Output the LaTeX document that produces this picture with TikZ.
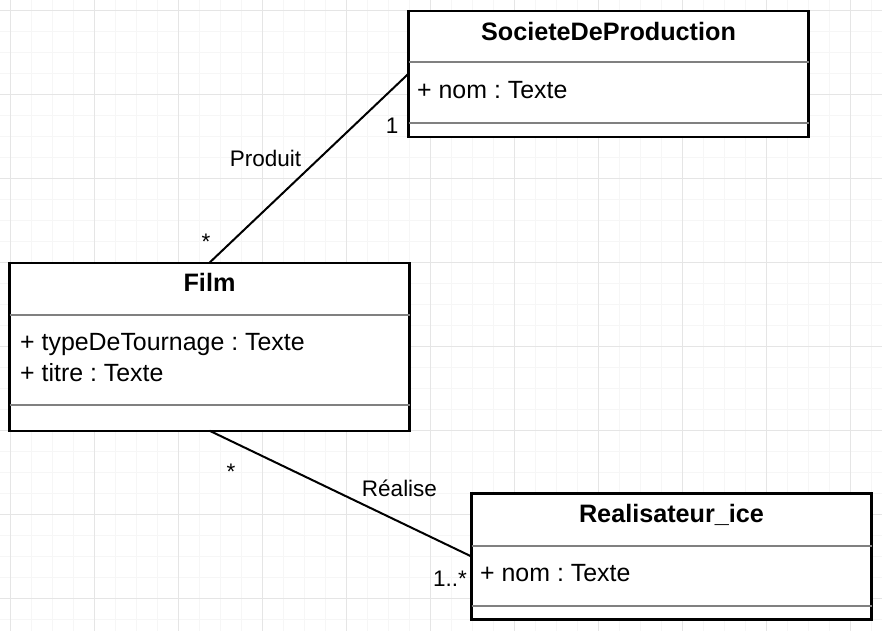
\documentclass[tikz,border=0pt]{standalone}
\usepackage{fontspec}
\setmainfont{Liberation Sans}
\usetikzlibrary{calc}
\definecolor{gridminor}{gray}{0.965}
\definecolor{gridmajor}{gray}{0.9}
\definecolor{sepgray}{gray}{0.5}
\frenchspacing

\begin{document}
\begin{tikzpicture}[x=1pt, y=-1pt,
    classbox/.style={draw=black, line width=2.2pt, fill=white, minimum width=400pt, inner sep=0pt, outer sep=0pt},
    classtitle/.style={font=\fontsize{25.2}{30}\selectfont\bfseries, inner sep=0pt, anchor=base},
    attr/.style={font=\fontsize{24.9}{30}\selectfont, inner sep=0pt, anchor=base west},
    lbl/.style={font=\fontsize{22.5}{27}\selectfont, inner sep=0pt, anchor=base},
    sep/.style={draw=sepgray, line width=1.6pt},
    assoc/.style={draw=black, line width=2pt}]
            \useasboundingbox (0,0) rectangle (882,631);
            \fill[white] (0,0) rectangle (882,631);
            % grid
            \foreach \i in {0,...,41} {
                \draw[gridminor, line width=0.8pt] (10.5+21*\i, 0) -- (10.5+21*\i, 631);
            }
            \foreach \j in {0,...,29} {
                \draw[gridminor, line width=0.8pt] (0, 10.5+21*\j) -- (882, 10.5+21*\j);
            }
            \foreach \i in {0,...,10} {
                \draw[gridmajor, line width=0.8pt] (10.5+84*\i, 0) -- (10.5+84*\i, 631);
            }
            \foreach \j in {0,...,7} {
                \draw[gridmajor, line width=0.8pt] (0, 10.5+84*\j) -- (882, 10.5+84*\j);
            }

            % classes
            \node[classbox, minimum height=126pt, anchor=north west] (soc) at (408.5, 10.7) {};
            \node[classbox, minimum height=168pt, anchor=north west] (film) at (9.5, 262.7) {};
            \node[classbox, minimum height=126pt, anchor=north west] (real) at (471.5, 493.5) {};

            \node[classtitle] (socT) at ($(soc.north)+(0,29.5)$) {SocieteDeProduction};
            \node[classtitle] (filmT) at ($(film.north)+(0,29)$) {Film};
            \node[classtitle] (realT) at ($(real.north)+(0,28.5)$) {Realisateur\_ice};

            \draw[sep] ($(soc.north west)+(0,51.6)$) -- ($(soc.north east)+(0,51.6)$);
            \draw[sep] ($(soc.north west)+(0,112.3)$) -- ($(soc.north east)+(0,112.3)$);
            \draw[sep] ($(film.north west)+(0,52)$) -- ($(film.north east)+(0,52)$);
            \draw[sep] ($(film.north west)+(0,142.3)$) -- ($(film.north east)+(0,142.3)$);
            \draw[sep] ($(real.north west)+(0,52.5)$) -- ($(real.north east)+(0,52.5)$);
            \draw[sep] ($(real.north west)+(0,112.5)$) -- ($(real.north east)+(0,112.5)$);

            \node[attr] (socA1) at ($(soc.north west)+(8.5,88)$) {+ nom : Texte};
            \node[attr] (filmA1) at ($(film.north west)+(10.5,87.5)$) {+ typeDeTournage : Texte};
            \node[attr] (filmA2) at ($(film.north west)+(10.5,118.5)$) {+ titre : Texte};
            \node[attr] (realA1) at ($(real.north west)+(8.5,88)$) {+ nom : Texte};

            % associations
            \draw[assoc] (film.north) -- (soc.west);
            \draw[assoc] (film.south) -- (real.west);

            \node[lbl] (produit) at (265.5, 166) {Produit};
            \node[lbl] (produitS) at (392, 134) {1};
            \node[lbl] (produitF) at (206, 249) {*};
            \node[lbl] (realise) at (399.5, 496) {Réalise};
            \node[lbl] (realiseF) at (231, 479) {*};
            \node[lbl, anchor=base east] (realiseR) at (467, 586) {1..*};

        \end{tikzpicture}
\end{document}
